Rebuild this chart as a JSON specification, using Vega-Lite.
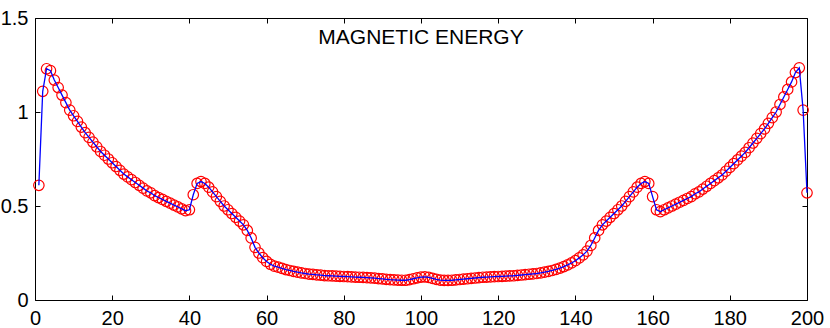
{
  "$schema": "https://vega.github.io/schema/vega-lite/v6.json",
  "width": 772,
  "height": 282,
  "autosize": {"type": "none"},
  "padding": {"left": 35, "top": 18, "right": 23, "bottom": 28},
  "background": "white",
  "view": {"stroke": null},
  "title": {"text": "MAGNETIC ENERGY", "font": "Liberation Sans", "fontSize": 21, "fontWeight": "normal", "color": "black", "anchor": "middle", "frame": "group", "baseline": "top", "offset": -40},
  "config": {
    "axis": {"grid": false, "title": null, "domainColor": "black", "tickColor": "black", "labelColor": "black", "labelFont": "Liberation Sans", "labelFontSize": 20, "tickSize": -5, "domainWidth": 1, "tickWidth": 1}
  },
  "data": {"values": [
    {"x":1,"y":0.61},{"x":2,"y":1.11},{"x":3,"y":1.23},{"x":4,"y":1.22},{"x":5,"y":1.17},{"x":6,"y":1.13},{"x":7,"y":1.09},{"x":8,"y":1.05},{"x":9,"y":1.01},{"x":10,"y":0.98},
    {"x":11,"y":0.95},{"x":12,"y":0.92},{"x":13,"y":0.89},{"x":14,"y":0.865},{"x":15,"y":0.84},{"x":16,"y":0.815},{"x":17,"y":0.79},{"x":18,"y":0.77},{"x":19,"y":0.75},{"x":20,"y":0.73},
    {"x":21,"y":0.71},{"x":22,"y":0.69},{"x":23,"y":0.67},{"x":24,"y":0.655},{"x":25,"y":0.64},{"x":26,"y":0.625},{"x":27,"y":0.61},{"x":28,"y":0.595},{"x":29,"y":0.58},{"x":30,"y":0.57},
    {"x":31,"y":0.555},{"x":32,"y":0.545},{"x":33,"y":0.535},{"x":34,"y":0.525},{"x":35,"y":0.515},{"x":36,"y":0.505},{"x":37,"y":0.495},{"x":38,"y":0.485},{"x":39,"y":0.475},{"x":40,"y":0.48},
    {"x":41,"y":0.56},{"x":42,"y":0.62},{"x":43,"y":0.63},{"x":44,"y":0.62},{"x":45,"y":0.6},{"x":46,"y":0.575},{"x":47,"y":0.55},{"x":48,"y":0.525},{"x":49,"y":0.5},{"x":50,"y":0.48},
    {"x":51,"y":0.46},{"x":52,"y":0.44},{"x":53,"y":0.42},{"x":54,"y":0.4},{"x":55,"y":0.37},{"x":56,"y":0.33},{"x":57,"y":0.28},{"x":58,"y":0.25},{"x":59,"y":0.225},{"x":60,"y":0.205},
    {"x":61,"y":0.19},{"x":62,"y":0.18},{"x":63,"y":0.175},{"x":64,"y":0.168},{"x":65,"y":0.162},{"x":66,"y":0.157},{"x":67,"y":0.152},{"x":68,"y":0.148},{"x":69,"y":0.144},{"x":70,"y":0.141},
    {"x":71,"y":0.138},{"x":72,"y":0.136},{"x":73,"y":0.134},{"x":74,"y":0.132},{"x":75,"y":0.13},{"x":76,"y":0.129},{"x":77,"y":0.128},{"x":78,"y":0.127},{"x":79,"y":0.126},{"x":80,"y":0.125},
    {"x":81,"y":0.124},{"x":82,"y":0.123},{"x":83,"y":0.122},{"x":84,"y":0.121},{"x":85,"y":0.12},{"x":86,"y":0.119},{"x":87,"y":0.118},{"x":88,"y":0.116},{"x":89,"y":0.114},{"x":90,"y":0.112},
    {"x":91,"y":0.11},{"x":92,"y":0.108},{"x":93,"y":0.107},{"x":94,"y":0.106},{"x":95,"y":0.105},{"x":96,"y":0.105},{"x":97,"y":0.108},{"x":98,"y":0.113},{"x":99,"y":0.118},{"x":100,"y":0.122},
    {"x":101,"y":0.123},{"x":102,"y":0.12},{"x":103,"y":0.115},{"x":104,"y":0.11},{"x":105,"y":0.106},{"x":106,"y":0.104},{"x":107,"y":0.104},{"x":108,"y":0.105},{"x":109,"y":0.107},{"x":110,"y":0.109},
    {"x":111,"y":0.111},{"x":112,"y":0.113},{"x":113,"y":0.115},{"x":114,"y":0.117},{"x":115,"y":0.119},{"x":116,"y":0.121},{"x":117,"y":0.122},{"x":118,"y":0.123},{"x":119,"y":0.124},{"x":120,"y":0.125},
    {"x":121,"y":0.126},{"x":122,"y":0.127},{"x":123,"y":0.128},{"x":124,"y":0.129},{"x":125,"y":0.131},{"x":126,"y":0.133},{"x":127,"y":0.135},{"x":128,"y":0.137},{"x":129,"y":0.139},{"x":130,"y":0.141},
    {"x":131,"y":0.144},{"x":132,"y":0.148},{"x":133,"y":0.152},{"x":134,"y":0.157},{"x":135,"y":0.163},{"x":136,"y":0.17},{"x":137,"y":0.178},{"x":138,"y":0.187},{"x":139,"y":0.197},{"x":140,"y":0.209},
    {"x":141,"y":0.224},{"x":142,"y":0.24},{"x":143,"y":0.26},{"x":144,"y":0.29},{"x":145,"y":0.33},{"x":146,"y":0.37},{"x":147,"y":0.4},{"x":148,"y":0.42},{"x":149,"y":0.44},{"x":150,"y":0.46},
    {"x":151,"y":0.48},{"x":152,"y":0.5},{"x":153,"y":0.525},{"x":154,"y":0.55},{"x":155,"y":0.575},{"x":156,"y":0.6},{"x":157,"y":0.62},{"x":158,"y":0.63},{"x":159,"y":0.62},{"x":160,"y":0.55},
    {"x":161,"y":0.48},{"x":162,"y":0.47},{"x":163,"y":0.48},{"x":164,"y":0.49},{"x":165,"y":0.5},{"x":166,"y":0.51},{"x":167,"y":0.52},{"x":168,"y":0.53},{"x":169,"y":0.54},{"x":170,"y":0.55},
    {"x":171,"y":0.565},{"x":172,"y":0.575},{"x":173,"y":0.59},{"x":174,"y":0.605},{"x":175,"y":0.62},{"x":176,"y":0.635},{"x":177,"y":0.65},{"x":178,"y":0.665},{"x":179,"y":0.685},{"x":180,"y":0.705},
    {"x":181,"y":0.725},{"x":182,"y":0.745},{"x":183,"y":0.765},{"x":184,"y":0.785},{"x":185,"y":0.81},{"x":186,"y":0.835},{"x":187,"y":0.86},{"x":188,"y":0.885},{"x":189,"y":0.91},{"x":190,"y":0.94},
    {"x":191,"y":0.97},{"x":192,"y":1.0},{"x":193,"y":1.04},{"x":194,"y":1.08},{"x":195,"y":1.12},{"x":196,"y":1.16},{"x":197,"y":1.21},{"x":198,"y":1.235},{"x":199,"y":1.01},{"x":200,"y":0.57}
  ]},
  "layer": [
    {
      "mark": {"type": "point", "shape": "circle", "filled": false, "color": "#ff0000", "size": 110, "strokeWidth": 1.2, "opacity": 1},
      "encoding": {
        "x": {"field": "x", "type": "quantitative", "scale": {"domain": [0, 200], "nice": false, "zero": false},
              "axis": {"orient": "bottom", "values": [0,20,40,60,80,100,120,140,160,180,200], "labelPadding": 13, "labelFlush": false}},
        "y": {"field": "y", "type": "quantitative", "scale": {"domain": [0, 1.5], "nice": false},
              "axis": {"orient": "left", "values": [0, 0.5, 1, 1.5], "format": "~g", "labelPadding": 12}}
      }
    },
    {
      "mark": {"type": "line", "color": "#0000ff", "strokeWidth": 1.3},
      "encoding": {
        "x": {"field": "x", "type": "quantitative",
              "axis": {"orient": "top", "values": [0,20,40,60,80,100,120,140,160,180,200], "labels": false}},
        "y": {"field": "y", "type": "quantitative",
              "axis": {"orient": "right", "values": [0, 0.5, 1, 1.5], "labels": false}}
      }
    }
  ]
}
